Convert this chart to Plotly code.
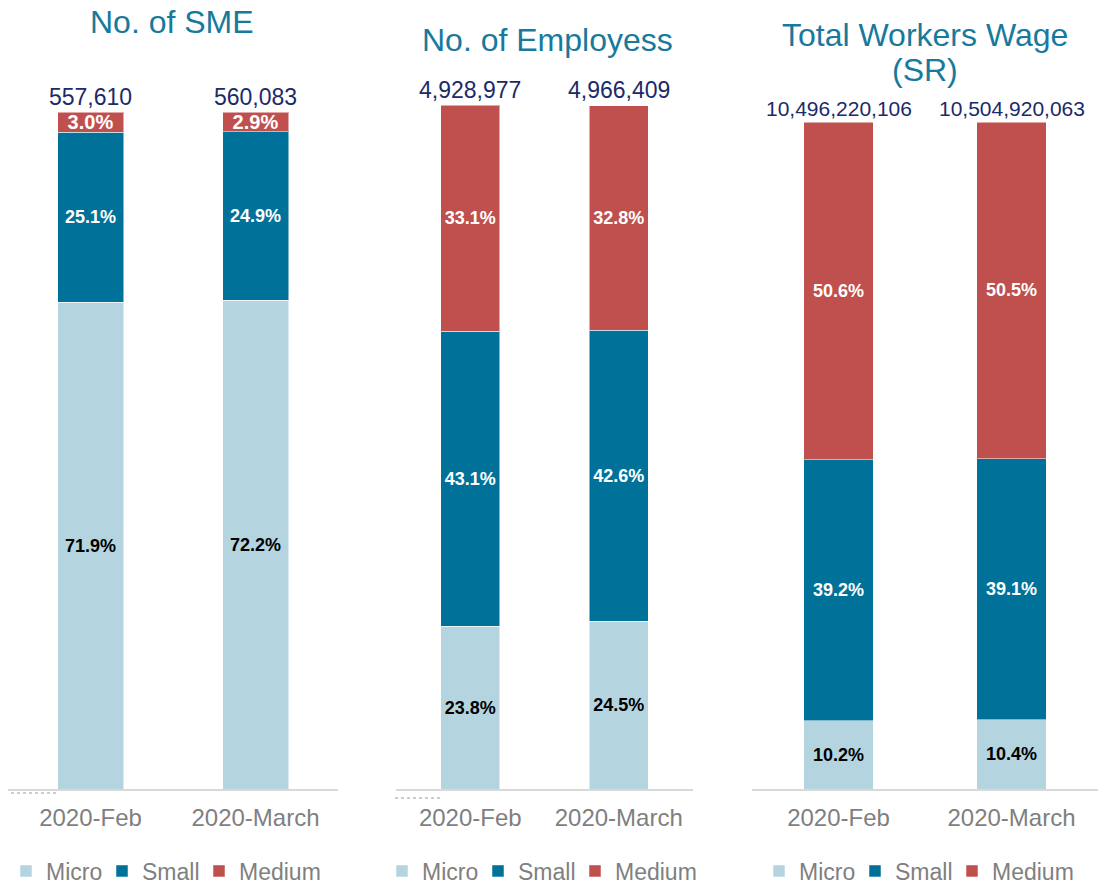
import plotly.graph_objects as go

W, H = 1104, 880

# ---------------- data ----------------
categories = ["2020-Feb", "2020-March"]
series_names = ["Micro", "Small", "Medium"]

sme_micro = [71.9, 72.2]
sme_small = [25.1, 24.9]
sme_medium = [3.0, 2.9]

emp_micro = [23.8, 24.5]
emp_small = [43.1, 42.6]
emp_medium = [33.1, 32.8]

wage_micro = [10.2, 10.4]
wage_small = [39.2, 39.1]
wage_medium = [50.6, 50.5]

sme_totals = ["557,610", "560,083"]
emp_totals = ["4,928,977", "4,966,409"]
wage_totals = ["10,496,220,106", "10,504,920,063"]

panel_titles = [["No. of SME"], ["No. of Employess"], ["Total Workers Wage", "(SR)"]]

# ---------------- styling ----------------
FONT = "Liberation Sans, Arial, Helvetica, sans-serif"
colors = {"Micro": "#B4D5E0", "Small": "#00729A", "Medium": "#C0504D"}
label_colors = {"Micro": "#000000", "Small": "#FFFFFF", "Medium": "#FFFFFF"}
legend_widths = {"Micro": 51, "Small": 52, "Medium": None}
TITLE_C = "#177A9C"
TOTAL_C = "#1B2A68"
GRAY = "#7F7F7F"


def px(x):
    return x / W


def py(y):
    return 1 - y / H


panels = [
    dict(vals=[sme_micro, sme_small, sme_medium], totals=sme_totals,
         xdom=(8, 338), ydom=(112, 789), title_x=172, title_ys=[22], total_size=23,
         legend_x=6, big_medium=True),
    dict(vals=[emp_micro, emp_small, emp_medium], totals=emp_totals,
         xdom=(396, 693), ydom=(105, 789), title_x=547, title_ys=[40], total_size=23,
         legend_x=382, big_medium=False),
    dict(vals=[wage_micro, wage_small, wage_medium], totals=wage_totals,
         xdom=(752, 1098), ydom=(122, 789), title_x=925, title_ys=[35, 70], total_size=21,
         legend_x=759, big_medium=False),
]

fig = go.Figure()
annotations = []
layout_axes = {}
legends = {}

for i, p in enumerate(panels):
    n = "" if i == 0 else str(i + 1)
    xa, ya = "x" + n, "y" + n
    lg = "legend" + n
    for s, vals in zip(series_names, p["vals"]):
        sizes = [18] * len(vals)
        if s == "Medium" and p["big_medium"]:
            sizes = [20] * len(vals)
        fig.add_trace(go.Bar(
            x=categories, y=vals, name=s,
            marker=dict(color=colors[s], line=dict(color="rgba(255,255,255,0.5)", width=1)),
            width=0.4,
            text=[f"{v:.1f}%" for v in vals],
            textposition="inside", insidetextanchor="middle",
            textangle=0, constraintext="none",
            textfont=dict(color=label_colors[s], size=sizes, family=FONT, weight="bold"),
            xaxis=xa, yaxis=ya, legend=lg,
            legendwidth=legend_widths[s],
            hoverinfo="skip",
        ))
    layout_axes["xaxis" + n] = dict(
        domain=[px(p["xdom"][0]), px(p["xdom"][1])], anchor=ya,
        showline=True, linecolor="#D9D9D9", linewidth=2,
        showgrid=False, zeroline=False, ticks="",
        tickfont=dict(size=24, color=GRAY, family=FONT),
        ticklabelstandoff=6,
        range=[-0.5, 1.5], fixedrange=True,
    )
    layout_axes["yaxis" + n] = dict(
        domain=[py(p["ydom"][1]), py(p["ydom"][0])], anchor=xa,
        range=[0, 100], visible=False, fixedrange=True,
    )
    for c, t in zip(categories, p["totals"]):
        annotations.append(dict(
            x=c, y=100, xref=xa, yref=ya, text=t, showarrow=False,
            yanchor="bottom", yshift=0,
            font=dict(size=p["total_size"], color=TOTAL_C, family=FONT),
        ))
    for line, ty in zip(panel_titles[i], p["title_ys"]):
        annotations.append(dict(
            x=px(p["title_x"]), y=py(ty), xref="paper", yref="paper", text=line,
            showarrow=False, xanchor="center", yanchor="middle",
            font=dict(size=32, color=TITLE_C, family=FONT),
        ))
    legends[lg] = dict(
        orientation="h", x=px(p["legend_x"]), y=py(871),
        xanchor="left", yanchor="middle", traceorder="normal",
        font=dict(size=23, color=GRAY, family=FONT),
        bgcolor="rgba(0,0,0,0)", itemwidth=30,
    )

shapes = [
    dict(type="line", xref="paper", yref="paper", x0=px(11), x1=px(58),
         y0=py(793), y1=py(793), line=dict(color="#999999", width=1, dash="dot")),
    dict(type="line", xref="paper", yref="paper", x0=px(395), x1=px(440),
         y0=py(798), y1=py(798), line=dict(color="#999999", width=1, dash="dot")),
]

fig.update_layout(
    width=W, height=H, autosize=False,
    margin=dict(l=0, r=0, t=0, b=0, autoexpand=False),
    paper_bgcolor="white", plot_bgcolor="white",
    barmode="stack", showlegend=True,
    annotations=annotations, shapes=shapes,
    font=dict(family=FONT),
    hovermode=False,
    **layout_axes, **legends,
)

fig.write_html("out.html", config={"displayModeBar": False},
               post_script="document.body.style.margin='0';")
